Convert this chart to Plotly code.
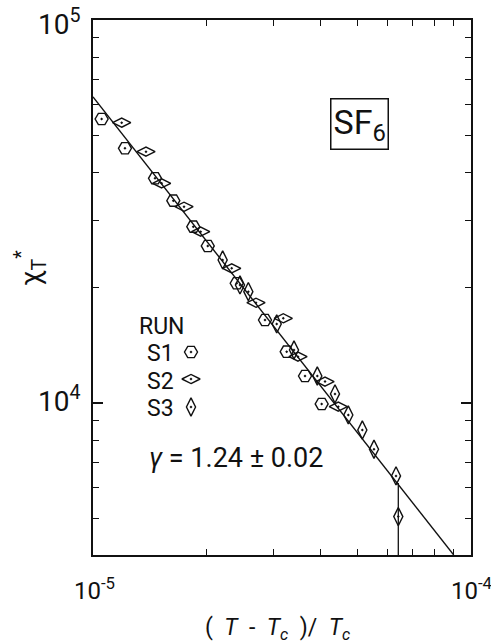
import math
import plotly.graph_objects as go

# ---------------- data ----------------
s1_x = [1.054e-5, 1.215e-5, 1.459e-5, 1.631e-5, 1.842e-5, 2.012e-5,
        2.400e-5, 2.851e-5, 3.254e-5, 3.638e-5, 4.027e-5]
s1_y = [55140, 46240, 38610, 33750, 28860, 25700,
        20540, 16470, 13610, 11760, 9940]

s2_x = [1.191e-5, 1.381e-5, 1.519e-5, 1.741e-5, 1.927e-5, 2.328e-5,
        2.699e-5, 3.187e-5, 3.486e-5, 4.110e-5, 4.456e-5]
s2_y = [53930, 45310, 37460, 32540, 28010, 22470,
        18270, 16640, 13210, 11370, 9780]

s3_x = [2.203e-5, 2.448e-5, 2.576e-5, 3.062e-5, 3.402e-5, 3.921e-5,
        4.367e-5, 4.736e-5, 5.158e-5, 5.538e-5, 6.333e-5, 6.422e-5]
s3_y = [23630, 20330, 19530, 16080, 13750, 11760,
        10560, 9305, 8500, 7570, 6450, 5050]
# error bar only on the last S3 point
s3_err_plus = [0] * 11 + [1130]
s3_err_minus = [0] * 11 + [1050]

fit_x = [1.0e-5, 9.0e-5]
fit_y = [63000, 4010]

x_tickvals = [1e-5, 1e-4]
x_ticktext = ["10<sup>-5</sup>", "10<sup>-4</sup>"]
y_tickvals = [1e4, 1e5]
y_ticktext = ["10<sup>4</sup>", "10<sup>5</sup>"]
x_minor = [k * 1e-5 for k in range(2, 10)]
y_minor = [k * 1e3 for k in range(4, 10)] + [k * 1e4 for k in range(2, 10)]

run_labels = ["S1", "S2", "S3"]
run_symbols = ["hexagon2-open-dot", "diamond-wide-open-dot", "diamond-tall-open-dot"]

FONT = "Roboto"
BLACK = "#111111"

X_LOG = [-5, -4]
Y_LOG = [3.603, 5]


def frac_to_x(f):
    return 10 ** (X_LOG[0] + f * (X_LOG[1] - X_LOG[0]))


def frac_to_y(f):
    return 10 ** (Y_LOG[0] + f * (Y_LOG[1] - Y_LOG[0]))


fig = go.Figure()

fig.add_trace(go.Scatter(x=fit_x, y=fit_y, mode="lines",
                         line=dict(color=BLACK, width=1.4), showlegend=False))

for xs, ys, sym, name, extra in [
    (s1_x, s1_y, run_symbols[0], "S1", {}),
    (s2_x, s2_y, run_symbols[1], "S2", {}),
    (s3_x, s3_y, run_symbols[2], "S3",
     dict(error_y=dict(type="data", symmetric=False, array=s3_err_plus,
                       arrayminus=s3_err_minus, color=BLACK, thickness=1.3, width=0))),
]:
    fig.add_trace(go.Scatter(x=xs, y=ys, mode="markers", name=name,
                             marker=dict(symbol=sym, size=13, color=BLACK,
                                         line=dict(width=1.4, color=BLACK)),
                             showlegend=False, **extra))

# legend keys (positions given as fractions of the plot area)
key_fx = [(191 - 93) / 378] * 3
key_fy = [(555 - 352) / 535, (555 - 379) / 535, (555 - 407) / 535]
for fx, fy, sym in zip(key_fx, key_fy, run_symbols):
    fig.add_trace(go.Scatter(x=[frac_to_x(fx)], y=[frac_to_y(fy)], mode="markers",
                             marker=dict(symbol=sym, size=13, color=BLACK,
                                         line=dict(width=1.4, color=BLACK)),
                             showlegend=False, hoverinfo="skip"))

axis_common = dict(showline=True, linecolor=BLACK, linewidth=2, mirror="allticks",
                   ticks="inside", ticklen=10, tickwidth=1.6, tickcolor=BLACK,
                   showgrid=False, zeroline=False, showticklabels=False)

fig.update_layout(
    width=491, height=644,
    margin=dict(l=93, r=20, t=20, b=89),
    paper_bgcolor="white", plot_bgcolor="white",
    font=dict(family=FONT, color=BLACK),
    xaxis=dict(type="log", range=X_LOG, tickmode="array", tickvals=x_tickvals,
               minor=dict(tickmode="array", tickvals=x_minor, ticks="inside",
                          ticklen=6, tickwidth=1.4, tickcolor=BLACK),
               **axis_common),
    yaxis=dict(type="log", range=Y_LOG, tickmode="array", tickvals=y_tickvals,
               minor=dict(tickmode="array", tickvals=y_minor, ticks="inside",
                          ticklen=6, tickwidth=1.4, tickcolor=BLACK),
               **axis_common),
    showlegend=False,
)

ann = []
# tick labels (placed at the tick positions along the axes)
for i, txt in enumerate(x_ticktext):
    ann.append(dict(xref="paper", yref="paper", x=i + 1 / 378, y=(555 - 589) / 535,
                    xanchor="center", yanchor="middle", text=txt, showarrow=False,
                    font=dict(size=24, family=FONT, color=BLACK)))
for val, txt, off in zip(y_tickvals, y_ticktext, [3, -3]):
    frac = (math.log10(val) - Y_LOG[0]) / (Y_LOG[1] - Y_LOG[0])
    ann.append(dict(xref="paper", yref="paper", x=-10 / 378, y=frac + off / 535,
                    xanchor="right", yanchor="middle", text=txt, showarrow=False,
                    font=dict(size=28, family=FONT, color=BLACK)))
# SF6 box
ann.append(dict(xref="paper", yref="paper", x=(359 - 93) / 378, y=(555 - 123.5) / 535,
                xanchor="center", yanchor="middle",
                text="SF<sub>6</sub>", showarrow=False,
                font=dict(size=34, family=FONT, color=BLACK),
                bordercolor=BLACK, borderwidth=1.5, borderpad=2, bgcolor="white"))
# RUN legend text
ann.append(dict(xref="paper", yref="paper", x=(137 - 93) / 378, y=(555 - 326) / 535,
                text="RUN", showarrow=False, xanchor="left", yanchor="middle",
                font=dict(size=23, family=FONT, color=BLACK)))
for lbl, ky in zip(run_labels, [354, 381, 408]):
    ann.append(dict(xref="paper", yref="paper", x=(145 - 93) / 378, y=(555 - ky) / 535,
                    text=lbl, showarrow=False, xanchor="left", yanchor="middle",
                    font=dict(size=23, family=FONT, color=BLACK)))
# gamma
ann.append(dict(xref="paper", yref="paper", x=(147 - 93) / 378, y=(555 - 458) / 535,
                text="<i>γ</i> = 1.24 ± 0.02", showarrow=False,
                xanchor="left", yanchor="middle",
                font=dict(size=27, family=FONT, color=BLACK)))
# axis titles
ann.append(dict(xref="paper", yref="paper", x=(277 - 93) / 378, y=(555 - 629) / 535,
                xanchor="center", yanchor="middle",
                text="(  <i>T</i>  -  <i>T<sub>c</sub></i>  )/  <i>T<sub>c</sub></i>",
                showarrow=False, font=dict(size=23, family=FONT, color=BLACK)))
ann.append(dict(xref="paper", yref="paper", x=(30 - 93) / 378, y=(555 - 268) / 535,
                xanchor="center", yanchor="middle",
                text="χ<sub>T</sub><sup>*</sup>", textangle=-90, showarrow=False,
                font=dict(size=28, family=FONT, color=BLACK)))
fig.update_layout(annotations=ann)

fig.write_html(
    "out.html",
    config={"displayModeBar": False},
    post_script="document.body.style.margin='0px';document.body.style.overflow='hidden';",
)
